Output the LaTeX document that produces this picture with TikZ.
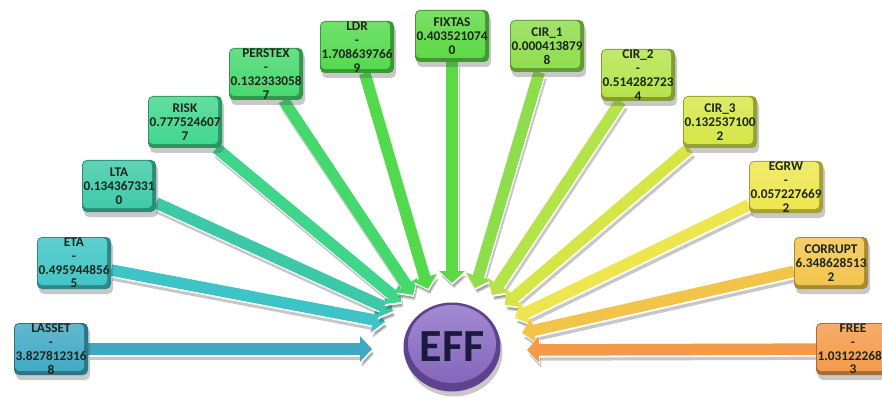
\documentclass[tikz,border=0pt]{standalone}
\usepackage{fontspec}
\setmainfont{Carlito}
\usetikzlibrary{arrows.meta,shapes.geometric,shadows}
\pgfdeclarelayer{bg}\pgfsetlayers{bg,main}
\definecolor{cA}{HTML}{3FA9C4}
\definecolor{cB}{HTML}{3EC4C6}
\definecolor{cC}{HTML}{3DC9A7}
\definecolor{cD}{HTML}{3FD68C}
\definecolor{cE}{HTML}{46D86C}
\definecolor{cF}{HTML}{52DA4C}
\definecolor{cG}{HTML}{5CD944}
\definecolor{cH}{HTML}{8EDD4C}
\definecolor{cI}{HTML}{B5E34A}
\definecolor{cJ}{HTML}{D5E646}
\definecolor{cK}{HTML}{EDE64E}
\definecolor{cL}{HTML}{F2C44A}
\definecolor{cM}{HTML}{F59A48}
\definecolor{txt}{HTML}{1C261C}
\definecolor{effdark}{HTML}{5E4290}
\definecolor{effmid}{HTML}{8063B8}
\definecolor{efflight}{HTML}{A48AD2}
\definecolor{efftxt}{HTML}{1A1A3C}
\tikzset{
  bx/.style={rectangle, rounded corners=5pt, minimum width=74pt, minimum height=52pt,
    inner sep=0pt, align=center, text=txt,
    font=\fontsize{13.3}{13.8}\selectfont\bfseries,
    fill=#1!70!black,
    drop shadow={shadow xshift=2pt, shadow yshift=-5pt, opacity=.3, fill=black!70},
    path picture={\shade[top color=#1!82!white, bottom color=#1, rounded corners=4pt]
      ([shift={(1pt,-1pt)}]path picture bounding box.north west) rectangle
      ([shift={(-4pt,4pt)}]path picture bounding box.south east);}},
  eff/.style={ellipse, minimum width=97pt, minimum height=89pt, inner sep=0pt,
    fill=effdark, text=efftxt, font=\fontsize{46}{46}\selectfont\bfseries,
    drop shadow={shadow xshift=2pt, shadow yshift=-5pt, opacity=.3, fill=black!70},
    path picture={\shade[top color=efflight, bottom color=effmid]
      ([shift={(0pt,3pt)}]path picture bounding box.center) ellipse [x radius=44pt, y radius=39pt];}},
  arrtip/.style={-{Triangle[length=12pt 0,width=25pt 0]}, line width=11.5pt}
}
\newcommand\myarr[3]{%
  \draw[arrtip, black, opacity=.22, transform canvas={shift={(2pt,-5pt)}}] (#1) -- (#2);
  \draw[arrtip, white, transform canvas={shift={(0.8pt,-1.8pt)}}] (#1) -- (#2);
  \draw[arrtip, #3] (#1) -- (#2);}
\begin{document}
\begin{tikzpicture}[x=1pt,y=-1pt]
\useasboundingbox (0,0) rectangle (882,398);
\clip (0,0) rectangle (882,398);
% boxes
\node[bx=cA] (lasset) at (51,349) {LASSET\\-\\3.827812316\\8};
\node[bx=cB] (eta) at (74,263) {ETA\\-\\0.495944856\\5};
\node[bx=cC] (lta) at (119,186) {LTA\\0.134367331\\0};
\node[bx=cD] (risk) at (185,122) {RISK\\0.777524607\\7};
\node[bx=cE] (perstex) at (266,74) {PERSTEX\\-\\0.132333058\\7};
\node[bx=cF] (ldr) at (357,47) {LDR\\-\\1.708639766\\9};
\node[bx=cG] (fixtas) at (452,36) {FIXTAS\\0.403521074\\0};
\node[bx=cH] (cira) at (547,46) {CIR\_1\\0.000413879\\8};
\node[bx=cI] (cirb) at (638,75) {CIR\_2\\-\\0.514282723\\4};
\node[bx=cJ] (circ) at (720,122) {CIR\_3\\0.132537100\\2};
\node[bx=cK] (egrw) at (786,187) {EGRW\\-\\0.057227669\\2};
\node[bx=cL] (corrupt) at (831,263) {CORRUPT\\6.348628513\\2};
\node[bx=cM] (free) at (853,349) {FREE\\-\\1.03122268\phantom{0}\\3};
% centre
\node[eff] (eff) at (452,347) {EFF};
% arrow ends
\coordinate (t1) at (372,349);
\coordinate (t2) at (385,322);
\coordinate (t3) at (393,311);
\coordinate (t4) at (401,302);
\coordinate (t5) at (413,295);
\coordinate (t6) at (428,289);
\coordinate (t7) at (452,283);
\coordinate (t8) at (475,288);
\coordinate (t9) at (492,295);
\coordinate (t10) at (505,305);
\coordinate (t11) at (515,318);
\coordinate (t12) at (522,333);
\coordinate (t13) at (527,350);
\begin{pgfonlayer}{bg}
\fill[white] (0,0) rectangle (882,398);
\myarr{lasset}{t1}{cA}
\myarr{eta}{t2}{cB}
\myarr{lta}{t3}{cC}
\myarr{risk}{t4}{cD}
\myarr{perstex}{t5}{cE}
\myarr{ldr}{t6}{cF}
\myarr{fixtas}{t7}{cG}
\myarr{cira}{t8}{cH}
\myarr{cirb}{t9}{cI}
\myarr{circ}{t10}{cJ}
\myarr{egrw}{t11}{cK}
\myarr{corrupt}{t12}{cL}
\myarr{free}{t13}{cM}
\end{pgfonlayer}
\end{tikzpicture}
\end{document}
